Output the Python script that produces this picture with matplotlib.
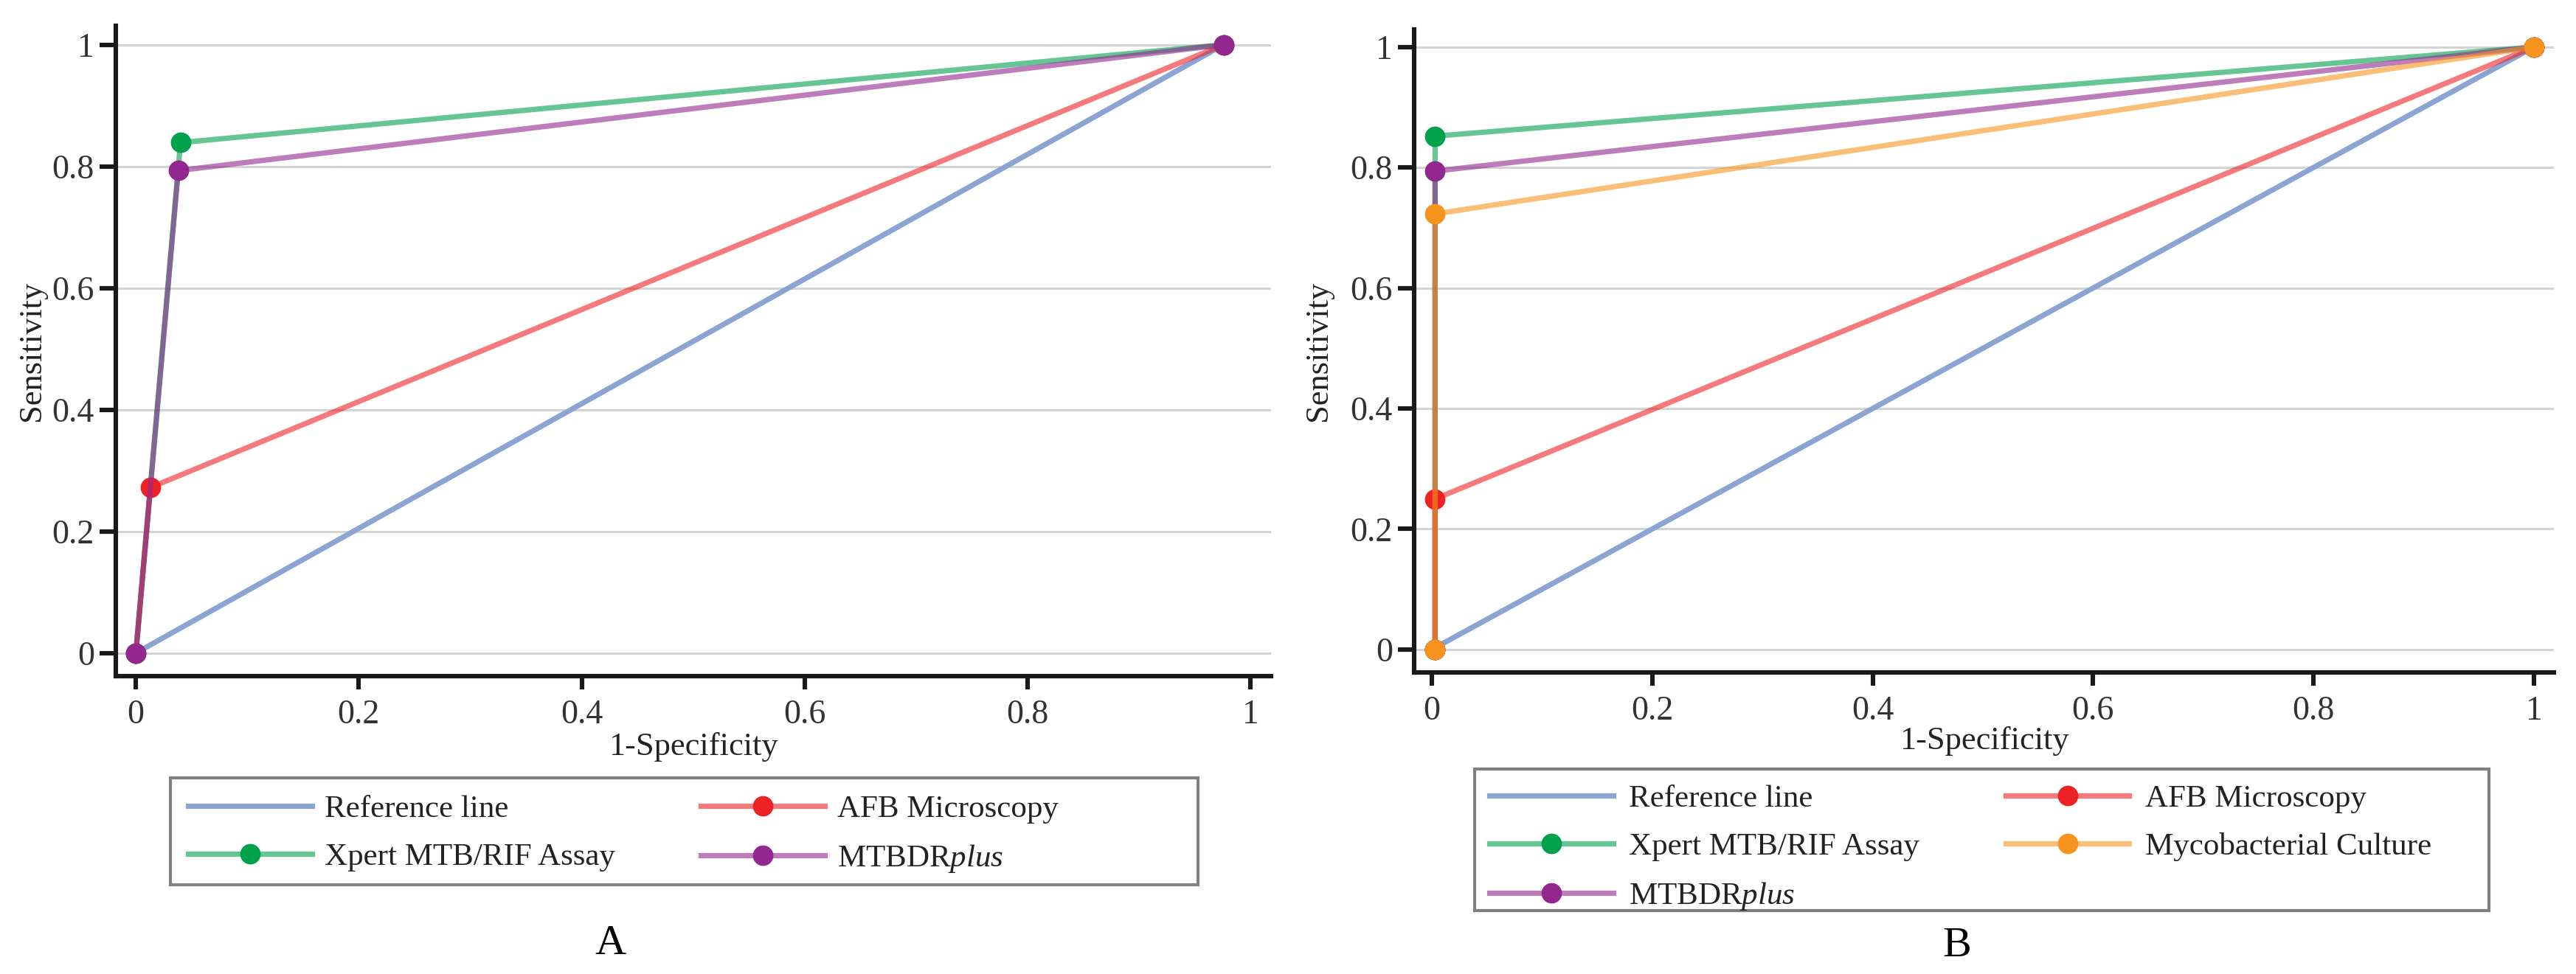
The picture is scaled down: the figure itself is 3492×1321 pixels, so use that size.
# ROC curves of the four diagnostic methods (panel A) and five (panel B)

import numpy as np
import matplotlib
matplotlib.use("Agg")
import matplotlib.pyplot as plt
from matplotlib.patches import Rectangle

plt.rcParams['font.family'] = ['Liberation Serif', 'DejaVu Serif']
plt.rcParams['mathtext.fontset'] = 'custom'
plt.rcParams['mathtext.rm'] = 'Liberation Serif'
plt.rcParams['mathtext.it'] = 'Liberation Serif:italic'

# panel A: (1-specificity, sensitivity)
ref_a_x = [0, 0.976]
ref_a_y = [0, 1]
xpert_a_x = [0, 0.040, 0.976]
xpert_a_y = [0, 0.839, 1]
afb_a_x = [0, 0.013, 0.976]
afb_a_y = [0, 0.272, 1]
mtb_a_x = [0, 0.038, 0.976]
mtb_a_y = [0, 0.793, 1]

# panel B
ref_b_x = [0, 1]
ref_b_y = [0, 1]
xpert_b_x = [0.003, 0.003, 1]
xpert_b_y = [0, 0.852, 1]
mtb_b_x = [0.003, 0.003, 1]
mtb_b_y = [0, 0.794, 1]
afb_b_x = [0.003, 0.003, 1]
afb_b_y = [0, 0.250, 1]
cult_b_x = [0.003, 0.003, 1]
cult_b_y = [0, 0.723, 1]

ticks = [0, 0.2, 0.4, 0.6, 0.8, 1]
tick_labels = ['0', '0.2', '0.4', '0.6', '0.8', '1']

blue = '#8aa4d3'
green = '#00a14b'
red = '#ed2224'
purple = '#92278f'
orange = '#f7941d'
line_alpha = 0.6
lw = 2.6
ms = 10


def curve(ax, x, y, c, label):
    lc = matplotlib.colors.to_rgba(c, line_alpha)
    ax.plot(x, y, color=lc, lw=lw, marker='o', ms=ms,
            markerfacecolor=c, markeredgecolor=c, markeredgewidth=0, label=label)


def style(ax, xlim, ylim, xlab_y, ylab_x):
    ax.set_xlim(*xlim)
    ax.set_ylim(*ylim)
    ax.set_xticks(ticks)
    ax.set_xticklabels(tick_labels)
    ax.set_yticks(ticks)
    ax.set_yticklabels(tick_labels)
    ax.spines['top'].set_visible(False)
    ax.spines['right'].set_visible(False)
    for s in ['left', 'bottom']:
        ax.spines[s].set_linewidth(2.2)
        ax.spines[s].set_color('#1a1a1a')
    ax.tick_params(axis='both', labelsize=16.5, width=2.2, colors='#1a1a1a',
                   labelcolor='#333333')
    ax.tick_params(axis='y', length=8, pad=2.5)
    ax.tick_params(axis='x', length=6.5, pad=5)
    ax.yaxis.grid(True, color='#d4d4d4', lw=1.1)
    ax.set_axisbelow(True)
    ax.set_xlabel('1-Specificity', fontsize=16, color='#222222')
    ax.set_ylabel('Sensitivity', fontsize=16, color='#222222')
    ax.xaxis.set_label_coords(0.5, xlab_y)
    ax.yaxis.set_label_coords(ylab_x, 0.5)


W, H = 3492, 1321
fig = plt.figure(figsize=(W / 200, H / 200), dpi=200)

def px_axes(x0, y0, x1, y1):
    return fig.add_axes([x0 / W, 1 - y1 / H, (x1 - x0) / W, (y1 - y0) / H])

# ---- panel A
ax1 = px_axes(157, 35, 1723, 917)
ax1.plot(ref_a_x, ref_a_y, color=blue, lw=lw, label='Reference line')
curve(ax1, xpert_a_x, xpert_a_y, green, 'Xpert MTB/RIF Assay')
curve(ax1, afb_a_x, afb_a_y, red, 'AFB Microscopy')
curve(ax1, mtb_a_x, mtb_a_y, purple, 'MTBDR$\\mathit{plus}$')
style(ax1, (-0.018, 1.0185), (-0.038, 1.031), -0.086, -0.060)

leg1 = fig.legend(*ax1.get_legend_handles_labels(), ncol=2, frameon=False,
                  loc='upper left', bbox_to_anchor=(255 / W, 1 - 1078 / H),
                  borderpad=0, borderaxespad=0, fontsize=15.5,
                  handlelength=3.9, handletextpad=0.4, columnspacing=2.7,
                  labelspacing=0.6, labelcolor='#222222')
fig.patches.append(Rectangle((231 / W, 1 - 1200 / H), (1624 - 231) / W, (1200 - 1055) / H,
                             transform=fig.transFigure, fill=False,
                             edgecolor='#808080', lw=1.5))
fig.text(827 / W, 1 - 1280 / H, 'A', fontsize=21, ha='center', va='center')

# ---- panel B
ax2 = px_axes(1917, 40, 3462, 912)
ax2.plot(ref_b_x, ref_b_y, color=blue, lw=lw, label='Reference line')
curve(ax2, xpert_b_x, xpert_b_y, green, 'Xpert MTB/RIF Assay')
curve(ax2, mtb_b_x, mtb_b_y, purple, 'MTBDR$\\mathit{plus}$')
curve(ax2, afb_b_x, afb_b_y, red, 'AFB Microscopy')
curve(ax2, cult_b_x, cult_b_y, orange, 'Mycobacterial Culture')
style(ax2, (-0.016, 1.018), (-0.038, 1.029), -0.084, -0.071)

leg2 = fig.legend(*ax2.get_legend_handles_labels(), ncol=2, frameon=False,
                  loc='upper left', bbox_to_anchor=(2019 / W, 1 - 1064 / H),
                  borderpad=0, borderaxespad=0, fontsize=15.5,
                  handlelength=3.9, handletextpad=0.5, columnspacing=2.7,
                  labelspacing=0.6, labelcolor='#222222')
fig.patches.append(Rectangle((1999 / W, 1 - 1235 / H), (3374 - 1999) / W, (1235 - 1043) / H,
                             transform=fig.transFigure, fill=False,
                             edgecolor='#808080', lw=1.5))
fig.text(2653 / W, 1 - 1283 / H, 'B', fontsize=21, ha='center', va='center')

fig.savefig('out.png', dpi=200, facecolor='white')
